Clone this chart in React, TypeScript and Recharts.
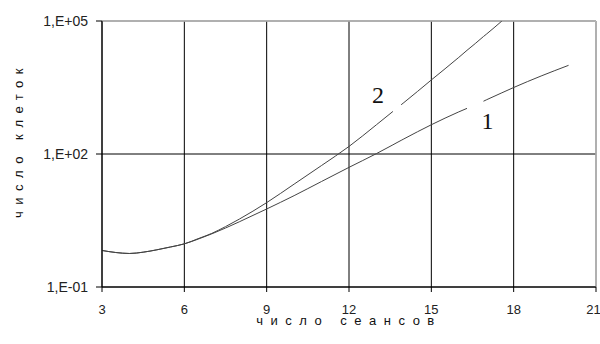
import React from "react";
import {
  LineChart,
  Line,
  XAxis,
  YAxis,
  CartesianGrid,
  ReferenceLine,
  ReferenceDot,
  Label,
} from "recharts";

// session number (x) and cell counts for the two curves; null = gap in the curve
const sessions = [
  3, 3.5, 4, 4.5, 5, 5.5, 6, 6.5, 7, 7.5, 8, 9, 10, 11, 12, 13, 13.6, 13.75, 13.9, 14, 15, 16,
  16.3, 16.6, 16.9, 17, 17.57, 18, 19, 20,
];
const curve1 = [
  0.667, 0.6, 0.57, 0.61, 0.69, 0.8, 0.94, 1.2, 1.58, 2.14, 2.95, 5.75, 11.5, 24, 50, 102,
  161, 181, 203, 219, 457, 891, 1070, null, 1550, 1660, 2400, 3160, 5750, 10000,
];
const curve2 = [
  0.667, 0.6, 0.57, 0.61, 0.69, 0.8, 0.94, 1.23, 1.62, 2.3, 3.39, 8.0, 20.9, 55, 148, 457,
  912, null, 1290, 1445, 4680, 15100, 21800, 31000, 44700, 50100, 100000, null, null, null,
];

const xTicks = [3, 6, 9, 12, 15, 18, 21];
const yTicks = [0.1, 100, 100000];

// curve labels: text, x, y (data units)
const curveNames = ["2", "1"];
const nameX = [13.06, 17.05];
const nameY = [1400, 370];

const data = sessions.map((x, i) => ({ x, c1: curve1[i], c2: curve2[i] }));

const sans = "'Liberation Sans', Arial, sans-serif";

const fmtY = (v: number) => {
  const e = Math.round(Math.log10(v));
  const s = e < 0 ? "-" : "+";
  return "1,E" + s + String(Math.abs(e)).padStart(2, "0");
};

export default function App() {
  return (
    <div style={{ position: "absolute", left: 0, top: 0, width: 600, height: 344, background: "#fff" }}>
      <LineChart
        width={600}
        height={344}
        data={data}
        margin={{ top: 21, right: 4, bottom: 0, left: 0 }}
      >
        <CartesianGrid stroke="#000" strokeWidth={1} />
        <XAxis
          dataKey="x"
          type="number"
          domain={[3, 21]}
          ticks={xTicks}
          height={57}
          tickSize={5}
          tickMargin={13}
          stroke="#000"
          tick={{ fill: "#222", fontSize: 13, fontFamily: sans }}
          allowDataOverflow
        >
          <Label
            content={({ viewBox }: any) => {
              const cx = viewBox.x + viewBox.width / 2;
              const cy = viewBox.y + 38;
              return (
                <text
                  x={cx}
                  y={cy}
                  textAnchor="middle"
                  fontFamily={sans}
                  fontSize={13}
                  letterSpacing={7.5}
                  fill="#111"
                >
                  число сеансов
                </text>
              );
            }}
          />
        </XAxis>
        <YAxis
          scale="log"
          domain={[0.1, 100000]}
          ticks={yTicks}
          width={102}
          tickSize={6}
          tickMargin={8}
          stroke="#000"
          tickFormatter={fmtY}
          tick={{ fill: "#222", fontSize: 14, fontFamily: sans }}
          allowDataOverflow
        >
          <Label
            content={({ viewBox }: any) => {
              const cx = viewBox.x + 18;
              const cy = viewBox.y + viewBox.height / 2 - 14;
              return (
                <text
                  x={cx}
                  y={cy}
                  transform={`rotate(-90 ${cx} ${cy})`}
                  textAnchor="middle"
                  dominantBaseline="central"
                  fontFamily={sans}
                  fontSize={13}
                  letterSpacing={6.5}
                  fill="#111"
                >
                  число клеток
                </text>
              );
            }}
          />
        </YAxis>
        <ReferenceLine y={100000} stroke="#c0c0c0" strokeWidth={1.5} />
        <ReferenceLine x={21} stroke="#c0c0c0" strokeWidth={1.5} />
        <Line
          dataKey="c1"
          type="monotone"
          stroke="#444"
          strokeWidth={1}
          dot={false}
          isAnimationActive={false}
        />
        <Line
          dataKey="c2"
          type="monotone"
          stroke="#444"
          strokeWidth={1}
          dot={false}
          isAnimationActive={false}
        />
        {curveNames.map((n, i) => (
          <ReferenceDot
            key={n}
            x={nameX[i]}
            y={nameY[i]}
            r={0}
            stroke="none"
            fill="none"
            label={{
              value: n,
              position: "center",
              content: ({ viewBox }: any) => (
                <text
                  x={viewBox.x + (viewBox.width || 0) / 2}
                  y={viewBox.y + (viewBox.height || 0) / 2}
                  textAnchor="middle"
                  fontFamily="'Liberation Serif', 'Times New Roman', serif"
                  fontSize={24}
                  fill="#111"
                >
                  {n}
                </text>
              ),
            }}
          />
        ))}
      </LineChart>
    </div>
  );
}
